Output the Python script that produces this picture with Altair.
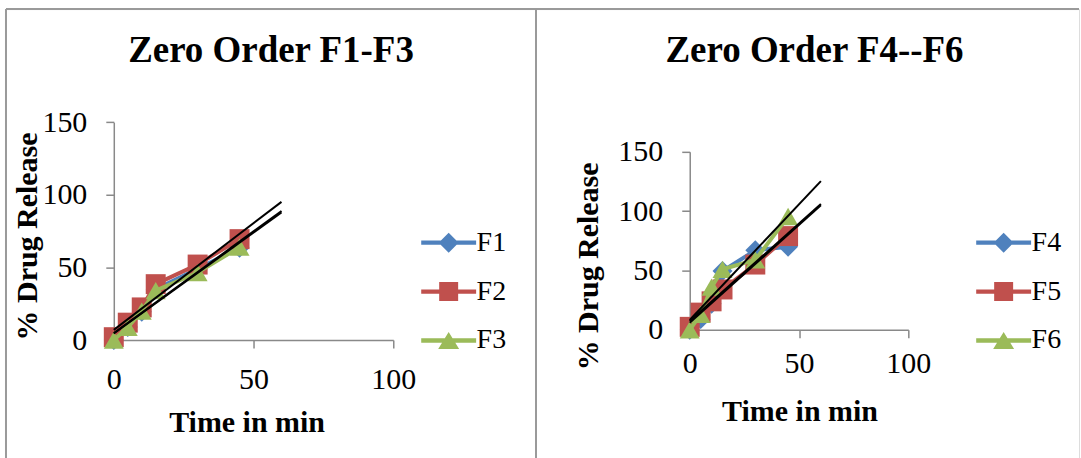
import altair as alt
import pandas as pd

# ---------------- data ----------------
time_min = [0, 5, 10, 15, 30, 45]

left_series = ["F1", "F2", "F3"]
F1 = [0, 9, 19.5, 35, 49, 63.5]
F2 = [2, 12, 22.5, 38.5, 52, 69.5]
F3 = [0, 8.7, 20, 34, 46.5, 64]

right_series = ["F4", "F5", "F6"]
F4 = [0, 9, 22, 49.5, 67, 70]
F5 = [2.5, 14.5, 24, 34, 55, 79]
F6 = [0, 13, 36, 51, 59, 95.5]

panel_titles = ["Zero Order F1-F3", "Zero Order F4--F6"]
x_title = "Time in min"
y_title = "% Drug Release"
x_ticks = [0, 50, 100]
y_ticks = [0, 50, 100, 150]
x_domain = [0, 100]
y_domain = [0, 150]
trend_extent = [0, 60]

# ---------------- styles ----------------
colors = ["#4F81BD", "#C0504D", "#9BBB59"]
markers = ["diamond", "square", "triangle-up"]
line_bar = "M-2.75,-0.22L2.75,-0.22L2.75,0.22L-2.75,0.22Z"
legend_paths = [
    line_bar + " M0,-1L1,0L0,1L-1,0Z",
    line_bar + " M-0.95,-0.95L0.95,-0.95L0.95,0.95L-0.95,0.95Z",
    line_bar + " M0,-0.85L1.05,0.85L-1.05,0.85Z",
]
FONT = "Liberation Serif"
AXIS_GRAY = "#898989"
BORDER_GRAY = "#9a9a9a"


def panel(names, series_vals, title, W, H, x_rng, y_rng, ax_x, ax_y, lab_pad,
          ytitle_x, ytitle_y, xtitle_x, xtitle_y, leg_x, leg_y, title_dx):
    rows = []
    for name, vals in zip(names, series_vals):
        for t, v in zip(time_min, vals):
            rows.append({"series": name, "t": t, "v": v})
    df = pd.DataFrame(rows)
    base = alt.Chart(df)

    common_axis = dict(
        grid=False, domainColor=AXIS_GRAY, domainWidth=1.5, tickColor=AXIS_GRAY,
        tickSize=8, tickWidth=1.5, labelFont=FONT, labelFontSize=30,
        labelColor="black", titleFont=FONT, titleFontSize=30,
        titleFontWeight="bold", titleColor="black", titleBaseline="alphabetic",
        titleAlign="center", labelOverlap=False,
    )
    x_enc = alt.X(
        "t:Q",
        scale=alt.Scale(domain=x_domain, range=x_rng, nice=False, zero=False),
        axis=alt.Axis(values=x_ticks, offset=-(H - ax_y), labelFlush=False,
                      labelPadding=lab_pad, title=x_title, titleX=xtitle_x,
                      titleY=xtitle_y, **common_axis),
    )
    y_enc = alt.Y(
        "v:Q",
        scale=alt.Scale(domain=y_domain, range=y_rng, nice=False, zero=False),
        axis=alt.Axis(values=y_ticks, offset=-ax_x, labelPadding=19,
                      title=y_title, titleX=ytitle_x, titleY=ytitle_y,
                      titleAngle=270, **common_axis),
    )

    layers = []
    # table-cell borders
    cell = alt.Chart(pd.DataFrame({"k": [0]}))
    layers.append(cell.mark_rule(color=BORDER_GRAY, strokeWidth=2).encode(
        x=alt.value(0), y=alt.value(0), y2=alt.value(H)))
    layers.append(cell.mark_rule(color=BORDER_GRAY, strokeWidth=2).encode(
        x=alt.value(0), x2=alt.value(W), y=alt.value(0)))

    for name, m, c in zip(names, markers, colors):
        sub = base.transform_filter(alt.datum.series == name)
        layers.append(sub.mark_line(strokeWidth=4, color=c).encode(x=x_enc, y=y_enc))
        layers.append(sub.mark_point(shape=m, filled=True, size=400, opacity=1,
                                     color=c).encode(x=x_enc, y=y_enc))

    # linear trend lines
    layers.append(
        base.transform_regression("t", "v", groupby=["series"], extent=trend_extent)
        .mark_line(color="black", strokeWidth=2)
        .encode(x=x_enc, y=y_enc, detail="series:N")
    )

    # legend-only layer (no marks drawn)
    legend = alt.Legend(
        orient="none", legendX=leg_x, legendY=leg_y, title=None,
        labelFont=FONT, labelFontSize=28, labelColor="black",
        symbolSize=400, symbolStrokeWidth=0, symbolOpacity=1,
        labelOffset=14, rowPadding=21, padding=0,
    )
    layers.append(
        base.transform_filter("datum.t < 0")
        .mark_point(filled=True, size=400, opacity=1)
        .encode(
            x=x_enc, y=y_enc,
            color=alt.Color("series:N",
                            scale=alt.Scale(domain=names, range=colors),
                            legend=legend),
            shape=alt.Shape("series:N",
                            scale=alt.Scale(domain=names, range=legend_paths),
                            legend=legend),
        )
    )

    return alt.layer(*layers).properties(
        width=W, height=H,
        title=alt.TitleParams(
            text=title, font=FONT, fontSize=37, fontWeight="bold",
            color="black", anchor="middle", frame="group", offset=-90.6,
            baseline="alphabetic", dx=title_dx,
        ),
    )


H = 450
left = panel(
    left_series, [F1, F2, F3], panel_titles[0], 531, H,
    x_rng=[108, 388], y_rng=[331.6, 113.3], ax_x=108, ax_y=331.6, lab_pad=17,
    ytitle_x=-77, ytitle_y=227.3, xtitle_x=241, xtitle_y=92,
    leg_x=429.5, leg_y=220, title_dx=0,
)
right = panel(
    right_series, [F4, F5, F6], panel_titles[1], 544, H,
    x_rng=[154, 373], y_rng=[321.3, 143], ax_x=154, ax_y=321.3, lab_pad=11,
    ytitle_x=-92, ytitle_y=257.3, xtitle_x=264, xtitle_y=91,
    leg_x=454.5, leg_y=220, title_dx=7,
)

chart = (
    alt.hconcat(left, right, spacing=0, bounds="flush")
    .resolve_scale(color="independent", shape="independent")
    .resolve_legend(color="independent", shape="independent")
    .properties(padding={"left": 4, "top": 6.7, "right": 0, "bottom": 0})
    .configure_view(stroke="transparent")
    .configure(background="white")
)

chart.save("out.html", embed_options={"renderer": "svg", "actions": False})
